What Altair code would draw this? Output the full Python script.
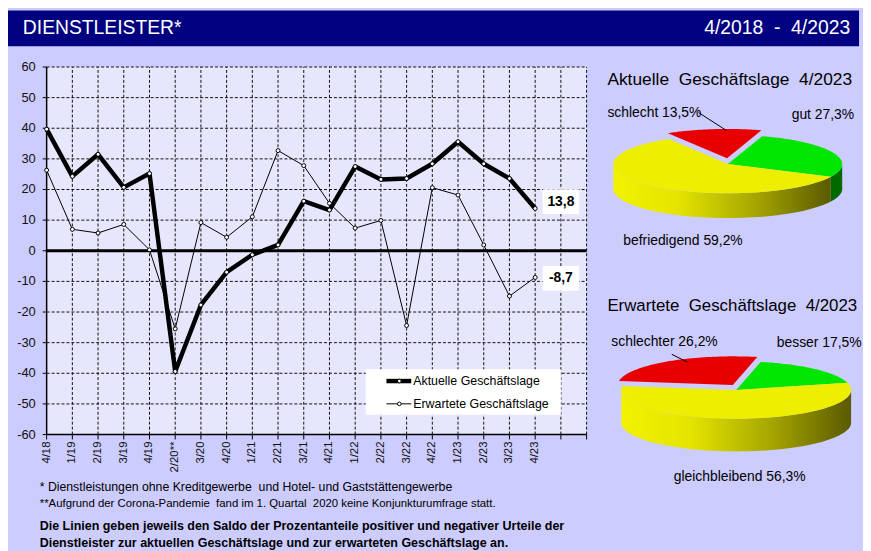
import altair as alt
import pandas as pd

# ------------------------------------------------------------------ data
quarters = ["4/18", "1/19", "2/19", "3/19", "4/19", "2/20**", "3/20", "4/20", "1/21", "2/21",
            "3/21", "4/21", "1/22", "2/22", "3/22", "4/22", "1/23", "2/23", "3/23", "4/23"]
aktuelle = [39.7, 24.3, 31.5, 20.7, 25.2, -39.4, -17.7, -7.0, -1.3, 1.9,
            16.2, 13.3, 27.5, 23.3, 23.6, 28.4, 35.6, 28.4, 23.6, 13.8]
erwartete = [26.3, 7.0, 5.8, 8.6, 0.3, -25.5, 9.2, 4.4, 11.1, 32.7,
             27.8, 15.5, 7.4, 9.9, -24.4, 20.6, 18.2, 1.9, -14.8, -8.7]
series_names = ["Aktuelle Geschäftslage", "Erwartete Geschäftslage"]
y_ticks = [-60, -50, -40, -30, -20, -10, 0, 10, 20, 30, 40, 50, 60]
n_slots = 21  # x grid runs two quarters beyond the last one

pie1_title = "Aktuelle\u00a0 Geschäftslage\u00a0 4/2023"
pie1_cats = ["schlecht", "gut", "befriedigend"]
pie1_vals = [13.5, 27.3, 59.2]
pie2_title = "Erwartete\u00a0 Geschäftslage\u00a0 4/2023"
pie2_cats = ["schlechter", "besser", "gleichbleibend"]
pie2_vals = [26.2, 17.5, 56.3]

header_left = "DIENSTLEISTER*"
header_right = "4/2018 \u00a0- \u00a04/2023"
footnotes = ["* Dienstleistungen ohne Kreditgewerbe\u00a0 und Hotel- und Gaststättengewerbe",
             "**Aufgrund der Corona-Pandemie\u00a0 fand im 1. Quartal\u00a0 2020 keine Konjunkturumfrage statt."]
summary = ["Die Linien geben jeweils den Saldo der Prozentanteile positiver und negativer Urteile der",
           "Dienstleister zur aktuellen Geschäftslage und zur erwarteten Geschäftslage an."]

# ------------------------------------------------------------------ style
W, H = 863, 543
FN = "Liberation Sans, Arial, sans-serif"
FA = "Liberation Sans, Arial, sans-serif"
BG = "#ccccff"
PLOT_BG = "#e6e6fd"
NAVY = "#000080"
TOP_COLORS = ["#e80000", "#00e600", "#eeee00"]
SIDE_COLORS = ["#8c0000", "#006a00", "#8a8a00"]


def de(v):
    return f"{v:.1f}".replace(".", ",")


def one():
    return pd.DataFrame({"a": [0]})


def txt(s, x, y, size, font=FN, weight="normal", align="left", baseline="alphabetic", color="black"):
    return alt.Chart(pd.DataFrame({"t": [s]})).mark_text(
        align=align, baseline=baseline, font=font, fontSize=size, fontWeight=weight, color=color
    ).encode(x=alt.value(x), y=alt.value(y), text="t:N")


# ------------------------------------------------------------------ line chart
XS = alt.Scale(domain=[0, n_slots], range=[39, 584], nice=False, zero=False)
YS = alt.Scale(domain=[min(y_ticks), max(y_ticks)], range=[428, 57], nice=False, zero=False)

rows = []
for i, q in enumerate(quarters):
    rows.append({"idx": i, "q": q, "v": aktuelle[i], "s": series_names[0]})
    rows.append({"idx": i, "q": q, "v": erwartete[i], "s": series_names[1]})
ldf = pd.DataFrame(rows)

frame_df = pd.DataFrame({"x0": [0], "x1": [n_slots], "y0": [min(y_ticks)], "y1": [max(y_ticks)]})
plot_bg = alt.Chart(frame_df).mark_rect(color=PLOT_BG).encode(
    x=alt.X("x0:Q", scale=XS, axis=None), x2="x1:Q",
    y=alt.Y("y0:Q", scale=YS, axis=None), y2="y1:Q")

vgrid_df = pd.DataFrame({"g": list(range(1, n_slots + 1)), "lo": min(y_ticks), "hi": max(y_ticks)})
vgrid = alt.Chart(vgrid_df).mark_rule(color="#111", strokeWidth=1, strokeDash=[3, 2]).encode(
    x=alt.X("g:Q", scale=XS, axis=None), y=alt.Y("lo:Q", scale=YS, axis=None), y2="hi:Q")

hgrid_df = pd.DataFrame({"g": [t for t in y_ticks if t not in (0, min(y_ticks))], "lo": 0, "hi": n_slots})
hgrid = alt.Chart(hgrid_df).mark_rule(color="#111", strokeWidth=1, strokeDash=[3, 2]).encode(
    y=alt.Y("g:Q", scale=YS, axis=None), x=alt.X("lo:Q", scale=XS, axis=None), x2="hi:Q")

zero_df = pd.DataFrame({"g": [0], "lo": [0], "hi": [n_slots]})
zero_line = alt.Chart(zero_df).mark_rule(color="black", strokeWidth=3).encode(
    y=alt.Y("g:Q", scale=YS, axis=None), x=alt.X("lo:Q", scale=XS, axis=None), x2="hi:Q")

yaxis_line = alt.Chart(frame_df).mark_rule(color="black", strokeWidth=1.5).encode(
    x=alt.X("x0:Q", scale=XS, axis=None), y=alt.Y("y0:Q", scale=YS, axis=None), y2="y1:Q")
xaxis_line = alt.Chart(frame_df).mark_rule(color="black", strokeWidth=1.5).encode(
    y=alt.Y("y0:Q", scale=YS, axis=None), x=alt.X("x0:Q", scale=XS, axis=None), x2="x1:Q")

ytick_df = pd.DataFrame({"v": y_ticks, "lab": [str(t) for t in y_ticks]})
yticks = alt.Chart(ytick_df).mark_rule(color="black", strokeWidth=1).encode(
    y=alt.Y("v:Q", scale=YS, axis=None), x=alt.value(35), x2=alt.value(39))
ylabels = alt.Chart(ytick_df).mark_text(align="right", baseline="middle", font=FA, fontSize=13,
                                        color="#111").encode(
    y=alt.Y("v:Q", scale=YS, axis=None), x=alt.value(28), text="lab:N")

xtick_df = pd.DataFrame({"g": list(range(0, n_slots + 1))})
xticks = alt.Chart(xtick_df).mark_rule(color="black", strokeWidth=1).encode(
    x=alt.X("g:Q", scale=XS, axis=None), y=alt.value(428), y2=alt.value(433))
xlab_df = pd.DataFrame({"idx": list(range(len(quarters))), "q": quarters})
xlabels = alt.Chart(xlab_df).mark_text(angle=270, align="right", baseline="middle", font=FN,
                                       fontSize=11.5, color="#111").encode(
    x=alt.X("idx:Q", scale=XS, axis=None), y=alt.value(435), text="q:N")

thick = alt.Chart(ldf).transform_filter(alt.datum.s == series_names[0]).mark_line(
    color="black", strokeWidth=4.5, strokeJoin="round").encode(
    x=alt.X("idx:Q", scale=XS, axis=None), y=alt.Y("v:Q", scale=YS, axis=None))
thin = alt.Chart(ldf).transform_filter(alt.datum.s == series_names[1]).mark_line(
    color="black", strokeWidth=1).encode(
    x=alt.X("idx:Q", scale=XS, axis=None), y=alt.Y("v:Q", scale=YS, axis=None))
pts = alt.Chart(ldf).mark_point(shape="circle", filled=True, fill="white", stroke="black",
                                strokeWidth=1, size=16, opacity=1).encode(
    x=alt.X("idx:Q", scale=XS, axis=None), y=alt.Y("v:Q", scale=YS, axis=None))

last_df = pd.DataFrame({"idx": [len(quarters)] * 2, "v": [aktuelle[-1], erwartete[-1]],
                        "lab": [de(aktuelle[-1]), de(erwartete[-1])], "s": series_names})
BOX = "M-1,-0.66L1,-0.66L1,0.66L-1,0.66Z"
val_layers = []
for name, off in zip(series_names, [-7, 1]):
    base = alt.Chart(last_df).transform_filter(alt.datum.s == name)
    val_layers.append(base.mark_point(shape=BOX, filled=True, fill="white", stroke="white",
                                      size=35 * 35, opacity=1, yOffset=off).encode(
        x=alt.X("idx:Q", scale=XS, axis=None), y=alt.Y("v:Q", scale=YS, axis=None)))
    val_layers.append(base.mark_text(font=FA, fontSize=14, fontWeight="bold", color="black",
                                     baseline="middle", align="center", dy=off).encode(
        x=alt.X("idx:Q", scale=XS, axis=None), y=alt.Y("v:Q", scale=YS, axis=None), text="lab:N"))

line_group = alt.layer(plot_bg, vgrid, hgrid, zero_line, yaxis_line, xaxis_line, yticks, ylabels,
                       xticks, xlabels, thick, thin, pts, *val_layers)

# legend box (decoration)
legend = [
    alt.Chart(one()).mark_rect(color="white").encode(
        x=alt.value(361), x2=alt.value(558), y=alt.value(362), y2=alt.value(408)),
    alt.Chart(one()).mark_rule(color="black", strokeWidth=4.5).encode(
        x=alt.value(382), x2=alt.value(407), y=alt.value(374)),
    alt.Chart(one()).mark_rule(color="black", strokeWidth=1).encode(
        x=alt.value(382), x2=alt.value(407), y=alt.value(397)),
    alt.Chart(one()).mark_point(shape="circle", filled=True, fill="white", stroke="black",
                                strokeWidth=1, size=14, opacity=1).encode(
        x=alt.value(395), y=alt.value(374)),
    alt.Chart(one()).mark_point(shape="circle", filled=True, fill="white", stroke="black",
                                strokeWidth=1, size=14, opacity=1).encode(
        x=alt.value(395), y=alt.value(397)),
    txt(series_names[0], 409, 374, 12.5, baseline="middle"),
    txt(series_names[1], 409, 397, 12.5, baseline="middle"),
]


# ------------------------------------------------------------------ 3-D pies
def pie(cats, vals, start, cx, cy, rx, ry, depth, explode_cat, e_px):
    df = pd.DataFrame({"cat": cats, "val": vals, "ord": list(range(len(cats)))})
    xs = alt.Scale(domain=[-2, 2], range=[cx - 2 * rx, cx + 2 * rx], nice=False, zero=False)
    ys = alt.Scale(domain=[-2, 2], range=[cy - 2 * ry, cy + 2 * ry], nice=False, zero=False)
    N = 60
    base = alt.Chart(df).transform_window(
        cum="sum(val)", sort=[alt.SortField("ord")], frame=[None, 0]
    ).transform_calculate(
        a0=f"{start} + (datum.cum - datum.val) * 3.6",
        a1=f"{start} + datum.cum * 3.6",
    ).transform_calculate(
        mid="(datum.a0 + datum.a1) / 2 * PI / 180",
        ex=f"datum.cat == '{explode_cat}' ? {e_px} : 0",
    ).transform_calculate(
        dx=f"datum.ex * sin(datum.mid) / {rx}",
        dy=f"-datum.ex * cos(datum.mid) / {ry}",
    )
    top = base.transform_calculate(k=f"sequence(0, {N + 2})").transform_flatten(["k"]).transform_calculate(
        t=f"(datum.a0 + (datum.a1 - datum.a0) * (datum.k - 1) / {N}) * PI / 180"
    ).transform_calculate(
        px="datum.k == 0 ? datum.dx : datum.dx + sin(datum.t)",
        py="datum.k == 0 ? datum.dy : datum.dy - cos(datum.t)",
    ).mark_line(filled=True, interpolate="linear-closed", strokeWidth=0).encode(
        x=alt.X("px:Q", scale=xs, axis=None),
        y=alt.Y("py:Q", scale=ys, axis=None),
        color=alt.Color("cat:N", scale=alt.Scale(domain=cats, range=TOP_COLORS), legend=None),
        order=alt.Order("k:Q"),
        detail="cat:N",
    )
    side = base.transform_calculate(
        s0="max(datum.a0, 90)", s1="min(datum.a1, 270)"
    ).transform_filter("datum.s1 > datum.s0").transform_calculate(
        k=f"sequence(0, {2 * N + 2})"
    ).transform_flatten(["k"]).transform_calculate(
        u=f"datum.k <= {N} ? datum.k / {N} : ({2 * N + 1} - datum.k) / {N}",
        lo=f"datum.k > {N} ? 1 : 0",
    ).transform_calculate(
        t="(datum.s0 + (datum.s1 - datum.s0) * datum.u) * PI / 180"
    ).transform_calculate(
        px="datum.dx + sin(datum.t)",
        py=f"datum.dy - cos(datum.t) + datum.lo * {depth / ry}",
    )
    side_dark = side.transform_filter(alt.datum.cat != cats[2]).mark_line(
        filled=True, interpolate="linear-closed", strokeWidth=0).encode(
        x=alt.X("px:Q", scale=xs, axis=None),
        y=alt.Y("py:Q", scale=ys, axis=None),
        color=alt.Color("cat:N", scale=alt.Scale(domain=cats, range=SIDE_COLORS), legend=None),
        order=alt.Order("k:Q"),
        detail="cat:N",
    )
    grad = alt.LinearGradient(gradient="linear", x1=0, x2=1, y1=0, y2=0, stops=[
        alt.GradientStop(offset=0, color="#f2f200"),
        alt.GradientStop(offset=0.3, color="#e4e400"),
        alt.GradientStop(offset=0.65, color="#a6a600"),
        alt.GradientStop(offset=1, color="#5a5a00"),
    ])
    side_yel = side.transform_filter(alt.datum.cat == cats[2]).mark_line(
        filled=True, interpolate="linear-closed", strokeWidth=0, fill=grad).encode(
        x=alt.X("px:Q", scale=xs, axis=None),
        y=alt.Y("py:Q", scale=ys, axis=None),
        order=alt.Order("k:Q"),
        detail="cat:N",
    )
    return alt.layer(side_dark, side_yel, top).resolve_scale(color="independent")


pie1 = pie(pie1_cats, pie1_vals, -31.1, 726.5, 155, 115.5, 29.5, 25, pie1_cats[0], 6)
pie2 = pie(pie2_cats, pie2_vals, -82, 735, 383, 116, 29, 33, pie2_cats[0], 6)

pie_text = [
    txt(pie1_title, 605, 75, 17.5, font=FA),
    txt(f"{pie1_cats[0]} {de(pie1_vals[0])}%", 605, 107, 14, font=FA),
    txt(f"{pie1_cats[1]} {de(pie1_vals[1])}%", 791, 110, 14, font=FA),
    txt(f"{pie1_cats[2]} {de(pie1_vals[2])}%", 621, 237, 14, font=FA),
    alt.Chart(one()).mark_rule(color="black", strokeWidth=1).encode(
        x=alt.value(697), x2=alt.value(725), y=alt.value(103), y2=alt.value(121)),
    txt(pie2_title, 605, 303, 17, font=FA),
    txt(f"{pie2_cats[0]} {de(pie2_vals[0])}%", 609, 339, 14, font=FA),
    txt(f"{pie2_cats[1]} {de(pie2_vals[1])}%", 776, 340, 14, font=FA),
    txt(f"{pie2_cats[2]} {de(pie2_vals[2])}%", 672, 475, 14, font=FA),
    alt.Chart(one()).mark_rule(color="black", strokeWidth=1).encode(
        x=alt.value(670), x2=alt.value(686), y=alt.value(347), y2=alt.value(355)),
]

# ------------------------------------------------------------------ header / footer
header = [
    alt.Chart(one()).mark_rect(color=NAVY).encode(
        x=alt.value(0), x2=alt.value(859), y=alt.value(0), y2=alt.value(36)),
    txt(header_left, 15, 24, 19.5, color="white"),
    txt(header_right, 850, 24, 19.5, color="white", align="right"),
]
footer = [
    txt(footnotes[0], 32, 485, 12.4),
    txt(footnotes[1], 32, 501, 11.5),
    txt(summary[0], 32, 524, 12.6, weight="bold"),
    txt(summary[1], 32, 541, 12.6, weight="bold"),
]

chart = alt.layer(
    *header, line_group, *legend, pie1, pie2, *pie_text, *footer
).resolve_scale(
    x="independent", y="independent", color="independent"
).properties(
    width=W, height=H, background=BG, padding=0, autosize="none"
).configure_view(stroke="transparent")

chart.save("out.html", embed_options={"renderer": "svg", "actions": False})
